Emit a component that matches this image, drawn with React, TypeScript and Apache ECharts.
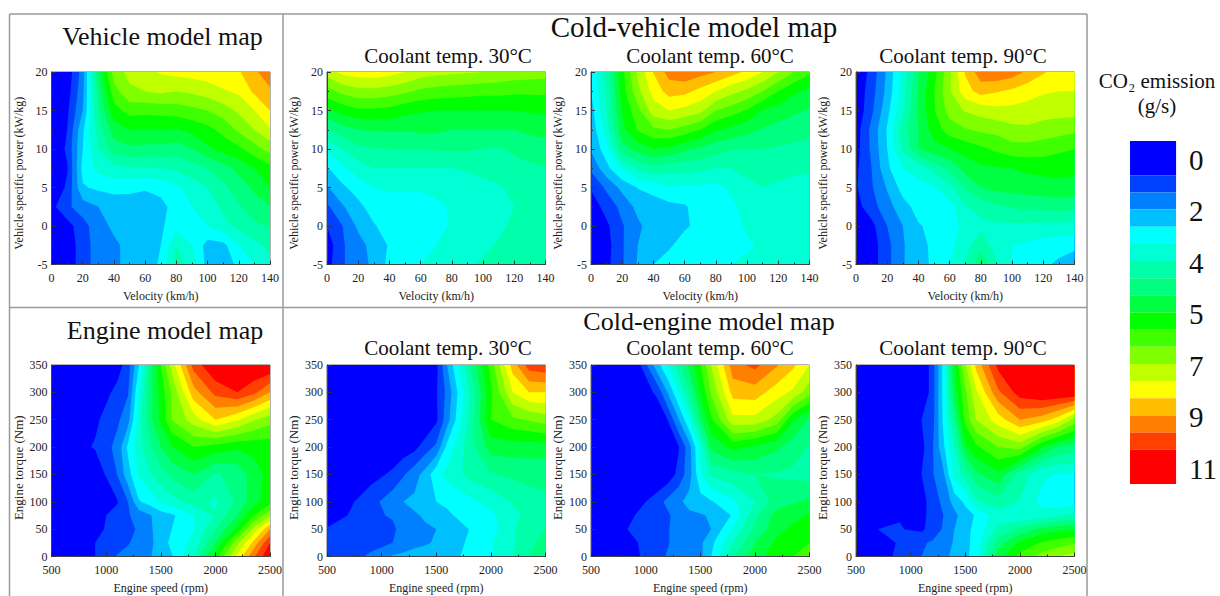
import React, { useEffect, useRef } from "react";
import * as echarts from "echarts";

const FONT = '"Liberation Serif", "Times New Roman", serif';

const bandColors = ["#0000ff","#0040ff","#0080ff","#00bfff","#00ffff","#00ffd5","#00ffaa","#00ff80","#00ff40","#00ff00","#40ff00","#80ff00","#bfff00","#ffff00","#ffbf00","#ff8000","#ff4000","#ff0000"];
const legendSpans = [2,1,1,1,1,1,1,1,1,1,1,1,1,1,1,1,1,2];
const legendTickValues = [1.1,4.1,7.1,10.1,13.1,16.1,19.1];
const legendTickLabels = ["0","2","4","5","7","9","11"];

const velocity = [0,10,20,30,40,50,60,70,80,90,100,110,120,130,140];
const specificPower = [20,17.5,15,12.5,10,7.5,5,2.5,0,-2.5,-5];
const engineSpeed = [500,900,1100,1200,1300,1400,1500,1600,1800,2000,2200,2350,2500];
const engineTorque = [350,300,250,200,150,100,75,50,25,0];

// All maps hold the colour-band position (0 to 18) of the CO2 scale.
const vehicleMap = [
  [0,0.3,2.5,8,11.5,12.3,12.7,13.1,13.3,13.4,13.5,13.7,13.9,14.8,15.7],
  [0,0.5,2.7,7.5,10.6,11.8,12,12.2,12,12.2,12.5,12.9,13.2,14.2,14.8],
  [0,0.8,3,7,9.6,10.4,10.3,10.4,10.5,10.7,11,11.5,12.2,13,14],
  [0,1,3.8,6.5,8.5,9,8.9,9,8.9,9.3,9.7,10.3,11.2,12,12.9],
  [0,1.2,4,6,7.5,7.8,7.7,7.7,7.5,8,8.8,9.4,9.8,10.6,11.4],
  [0,0.9,4.3,5.3,5.7,5.9,5.9,6,6.2,6.6,7,7.6,8.3,9,9.7],
  [0,1.2,3.9,4.2,4.4,4.3,4.1,4.3,4.8,5.4,6,6.8,7.5,8.2,9],
  [0.7,1.8,2.5,3,3.3,3.4,3.5,3.7,4.4,5,5.5,6.2,6.9,7.5,8],
  [0,0.6,1.6,2.6,3.2,3.4,3.5,3.8,4.7,4.5,5,5.7,6.3,6.8,7.1],
  [0,0.4,1.5,2.5,2.8,3.3,3.3,4,6,5,3.6,3.7,5,5.7,6.3],
  [0,0.4,1.5,2.5,2.8,3.3,3.3,4.2,6.4,5.6,3.6,3.3,4.3,5,5.7],
];
const coldVehicle30Columns = [
  [12.5,10.6,8.8,6.9,5.2,3.9,2.9,1.8,1,0.4,0.6],
  [13.3,11.3,9.4,7.6,6,4.8,3.8,2.9,2,1.9,1.9],
  [13.5,11.7,9.8,8,6.8,5.5,4.5,3.7,3.2,2.6,2.6],
  [13.6,11.7,9.8,8.1,6.9,6,5,4.5,3.9,3.4,3.2],
  [13.4,11.5,9.7,8.1,7,6,5.1,4.7,4.5,4.1,4.3],
  [13,11.2,9.3,8.1,7,6,5.1,4.6,4.3,4.3,4.6],
  [12.5,10.8,9.1,8.2,7,6,5.1,4.7,4.5,4.7,5],
  [12.3,10.6,9,8.2,7.1,6,5.3,4.8,4.7,5,5.4],
  [12.2,10.5,9,8,7.1,6,5.6,5.1,5.1,5.3,5.6],
  [12.1,10.4,9,8,7.1,6.1,5.6,5.4,5.4,5.6,5.9],
  [12,10.3,9,8,7,6.2,5.8,5.6,5.6,5.8,6.1],
  [11.8,10.3,9,8,6.9,6.4,5.9,5.7,5.8,6.1,6.3],
  [11.6,10.2,9,8,7.2,6.6,6.2,6,6.2,6.3,6.4],
  [11.5,10.2,9.1,8.2,7.5,6.8,6.4,6.3,6.3,6.4,6.5],
  [11.4,10.2,9.2,8.3,7.6,6.9,6.5,6.4,6.4,6.5,6.6],
];
const coldVehicle60Columns = [
  [4.2,4,3.6,3.3,3.1,2.2,1.1,0.4,0,0,0],
  [6.4,6.2,6,5.5,4.6,3.7,2.2,1.4,0.8,0.6,0.7],
  [9.7,9.5,9.1,8.7,7.6,5.1,3.3,2.3,1.9,1.9,1.9],
  [12.2,11.7,10.7,10.1,8.4,6.2,4.05,3.3,2.8,3,3.1],
  [14.05,13.4,12.5,10.8,9,6.8,4.3,3.6,3.5,3.6,4],
  [15.4,14.4,13,11,8.8,6.4,4.9,3.7,3.7,3.9,4.3],
  [15.7,14.3,12.7,10.6,8.2,6.4,4.8,3.9,3.9,4.3,4.6],
  [15.4,13.7,12.3,10,7.8,6.3,4.8,4.4,4.2,4.6,4.9],
  [15,13,11,9.1,7.4,6,4.7,4.5,4.5,4.6,4.9],
  [14.4,12.3,10.5,8.7,7.1,6,5.2,4.8,4.5,4.6,5],
  [13.8,11.8,9.9,8.3,7,6.4,5.6,5.3,5.2,4.8,5.3],
  [13,11,8.9,7.9,7,6.5,6,5.7,5.5,5.2,5.4],
  [12,10,8.6,7.6,6.9,6.2,5.9,5.7,5.5,5.3,5.3],
  [11,9.2,8.2,7.4,6.8,6.2,5.7,5.5,5.4,5.3,5.3],
  [10.2,8.7,7.9,7.3,6.7,6.1,5.7,5.5,5.4,5.3,5.3],
];
const coldVehicle90 = [
  [0,1.4,3.2,5.3,7.9,9.6,11.8,14.1,15.6,15.8,15.5,14.8,14.1,13.6,13.4],
  [0.2,1.6,3.3,5.5,8.1,10,11.9,13.6,14.4,14.1,13.8,13.4,13.1,13,13],
  [0.2,1.8,3.7,5.8,8.2,9.9,11.4,12.1,12.4,12.7,12.7,12.6,12.5,12.4,12.4],
  [0.5,2.3,4.1,6.6,8,9.5,10.5,10.9,11.2,11.3,11.7,11.8,11.5,11.4,11.2],
  [0.6,2.2,4,6.2,8,8.6,9,9.4,9.8,10.2,10.6,10.6,10.5,10.2,10],
  [0.8,2,3.8,5,5.4,6.4,7.3,8.4,8.8,8.9,9,9.2,9.3,9.3,9.3],
  [0.9,1.9,3.1,4.4,4.7,4.9,5.8,7.1,8,8.3,8.4,8.5,8.6,8.7,8.6],
  [0.6,1.6,2.6,3.6,4.4,4.6,4.6,5.9,6.4,6.8,7.1,7.2,7.3,7.4,7.3],
  [0,0.7,2,3,3.9,4.3,4.6,5.3,5.7,5.8,5.8,5.8,5.7,5.7,5.6],
  [0,0.5,1.7,2.9,3.7,4.2,4.7,5.6,6.7,5.5,5,4.8,4.6,4.4,4.3],
  [0,0.5,1.7,2.9,3.8,4.1,5,6.1,7.8,6.1,5,4.6,4.2,3.8,3.3],
];
const engineMap = [
  [0,0,0.5,1.5,4,7.4,10,12.4,16.4,18,18,18,18],
  [0,0.2,1.3,1.9,5,7.6,9.4,11.1,14.6,16.3,17,16.3,15],
  [0,0.8,1.8,2.6,5.6,7.7,9.2,11,12.5,14,13.1,12.1,11.4],
  [0,1.1,2.3,4.2,5.6,6.9,8,8.9,10,9.6,9.2,9.3,9.4],
  [0,0.2,2,3.6,5.1,5.9,6.6,7.3,8,6.9,7.3,8.5,9.4],
  [0,0.2,0.9,2,3.9,4.4,5.1,5.6,6.4,5.8,7.2,8.6,9.6],
  [0,0.6,1.4,1.9,2.4,2.9,3.5,3.8,5,6.1,8,10,11.8],
  [0,0.8,1.3,1.6,2.2,2.9,3.3,4,4.9,7,9.3,12.3,15],
  [0,1,1.3,1.9,2.4,2.8,3.4,4.3,5.3,8,11.7,14.3,17],
  [0,1,2.1,2.4,2.7,2.9,3.6,3.9,6,9.5,13.2,15.8,18],
];
const coldEngine30 = [
  [0,0,0,0,0,0,0.7,3,6.9,10.4,14.5,16.5,16.8],
  [0,0,0,0,0,0,0.9,2.3,5.9,9.8,13,14,14],
  [0,0,0,0,0,0,0.8,2.6,6.2,10,10.8,11.1,11.5],
  [0,0,0.2,0.4,0.7,1.5,2.2,4.3,6.5,8.5,8.5,8.5,8.5],
  [0,0.6,1.2,1.9,2.6,3.4,4.7,5.3,6.3,6.9,7.2,7.3,7.3],
  [0,1.6,2.6,3,3.2,3.7,4,4.2,4.7,5.3,6.1,6.6,6.8],
  [0.3,1.8,2.1,2.4,2.9,3.1,3.6,3.8,4.5,4.8,5.7,6.3,6.7],
  [1.1,1.6,1.8,2.4,2.8,2.9,3,3.5,4,4.6,5.9,6.5,7],
  [1.4,1.8,2,2.5,2.8,2.9,3.1,3.6,4.1,4.9,5.9,6.7,7.4],
  [1.4,2.1,3.1,3.2,3.3,3.4,3.5,3.7,4.2,4.9,5.9,7,7.9],
];
const coldEngine60 = [
  [0,0.1,3.5,5,6.6,8.3,9.9,12,15.6,16.3,15.1,14.2,13],
  [0,0,1.2,3,4.9,7,9.1,11.1,14.4,14.5,13.5,12.8,11.4],
  [0,0,0,1,2.9,4.9,7.8,9.8,12.7,12.7,11.6,9.1,7.8],
  [0,0,0,0.4,0.9,2.6,5.2,8.3,9.3,8.8,8.2,7.5,6.9],
  [0,0,0,0.3,1.3,2.6,4.8,6.2,6.7,7,6.9,6.8,6.6],
  [0,0.5,1.5,2.3,2.8,3.3,3.6,3.9,4.8,6,7.5,7.9,8.2],
  [0,1,1.7,1.8,2.5,2.8,2.9,3.1,4.1,6.8,8.4,8.7,9.1],
  [0,1.2,1.7,1.9,2.5,2.7,2.9,3,5.1,7.2,8.7,9.2,9.5],
  [0,0.9,1.6,1.9,2.5,2.6,2.8,3.7,6,8,9.2,9.6,10],
  [0,0.8,1.6,2.1,2.5,2.6,2.7,4,6.8,8.6,9.5,10,10.5],
];
const coldEngine90 = [
  [0,0,0,1.5,4.3,9,11.8,14.3,17.3,18,18,18,18],
  [0,0,0,1.5,4.3,8.5,10.8,12.8,15.8,17.5,18,18,18],
  [0,0,1,1.6,4.2,7.2,10.3,12,13.5,15,14.5,13.5,11.6],
  [0,0,0.7,1.9,3.8,5.9,8.8,9.8,11,11.4,9.1,7.9,7.6],
  [0,0,1,1.9,2.8,5.3,6.4,7.8,8.8,6.6,5.2,4.9,4.9],
  [0,0,0.5,1.6,2.2,3.4,4.2,5.8,6.6,5.9,4.7,4.3,4.6],
  [0.6,0.95,0.7,1.4,2,2.7,3.6,4.1,5.5,5.1,5.4,5.8,6.3],
  [0.95,1.05,0.8,1.5,2.1,3,3.8,4.2,6.2,7.2,8.3,8.7,8.9],
  [0,1.1,1.9,2.1,2.5,3.1,3.7,4.4,7.5,9.2,10.1,10.5,10.9],
  [0,1.2,2,2.3,2.7,3.3,3.8,4.4,8.6,10.3,11.4,12,12.4],
];

const transpose = (cols: number[][]) => cols[0].map((_, r) => cols.map((c) => c[r]));

const VEHICLE_Y = 72;
const ENGINE_Y = 365;
const panelLefts = [51.5, 327, 591, 856];

const vehicleAxes = { xs: velocity, ys: specificPower, xMin: 0, xMax: 140, xStep: 20, yMin: -5, yMax: 20, yStep: 5, xName: "Velocity (km/h)", yName: "Vehicle specific power (kW/kg)", yNameSize: 12, yNameShift: 10, top: VEHICLE_Y, height: 192.5 };
const engineAxes = { xs: engineSpeed, ys: engineTorque, xMin: 500, xMax: 2500, xStep: 500, yMin: 0, yMax: 350, yStep: 50, xName: "Engine speed (rpm)", yName: "Engine torque (Nm)", yNameSize: 13, yNameShift: 14, top: ENGINE_Y, height: 191.5 };

const panels = [
  { axes: vehicleAxes, values: vehicleMap, left: panelLefts[0] },
  { axes: vehicleAxes, values: transpose(coldVehicle30Columns), left: panelLefts[1] },
  { axes: vehicleAxes, values: transpose(coldVehicle60Columns), left: panelLefts[2] },
  { axes: vehicleAxes, values: coldVehicle90, left: panelLefts[3] },
  { axes: engineAxes, values: engineMap, left: panelLefts[0] },
  { axes: engineAxes, values: coldEngine30, left: panelLefts[1] },
  { axes: engineAxes, values: coldEngine60, left: panelLefts[2] },
  { axes: engineAxes, values: coldEngine90, left: panelLefts[3] },
];

type P = [number, number, number];

// Part of a grid cell at or above a threshold (linear along cell edges).
function clipCell(cell: P[], t: number): P[] {
  const out: P[] = [];
  for (let i = 0; i < cell.length; i++) {
    const a = cell[i];
    const b = cell[(i + 1) % cell.length];
    const aIn = a[2] >= t;
    const bIn = b[2] >= t;
    if (aIn) out.push(a);
    if (aIn !== bIn) {
      const f = (t - a[2]) / (b[2] - a[2]);
      out.push([a[0] + (b[0] - a[0]) * f, a[1] + (b[1] - a[1]) * f, t]);
    }
  }
  return out;
}

function bandPath(xs: number[], ys: number[], values: number[][], band: number, api: any): string {
  let d = "";
  for (let r = 0; r < ys.length - 1; r++) {
    for (let c = 0; c < xs.length - 1; c++) {
      const cell: P[] = [
        [xs[c], ys[r], values[r][c]],
        [xs[c + 1], ys[r], values[r][c + 1]],
        [xs[c + 1], ys[r + 1], values[r + 1][c + 1]],
        [xs[c], ys[r + 1], values[r + 1][c]],
      ];
      const poly = band === 0 ? cell : clipCell(cell, band);
      if (poly.length < 3) continue;
      poly.forEach((p, i) => {
        const pt = api.coord([p[0], p[1]]);
        d += (i === 0 ? "M" : "L") + pt[0].toFixed(2) + " " + pt[1].toFixed(2);
      });
      d += "Z";
    }
  }
  return d;
}

const labelFont = { fontFamily: FONT, fontSize: 12, color: "#222" };
const nameFont = { fontFamily: FONT, fontSize: 12, color: "#222" };

function buildOption() {
  const grid: any[] = [];
  const xAxis: any[] = [];
  const yAxis: any[] = [];
  const series: any[] = [];

  panels.forEach((p, i) => {
    const a = p.axes;
    grid.push({ left: p.left, top: a.top, width: 218.5, height: a.height, show: true, borderColor: "#666", borderWidth: 1, backgroundColor: "transparent" });
    xAxis.push({
      gridIndex: i, type: "value", min: a.xMin, max: a.xMax, interval: a.xStep, z: 10,
      name: a.xName, nameLocation: "middle", nameGap: 25, nameTextStyle: nameFont,
      axisLine: { show: true, onZero: false, lineStyle: { color: "#444", width: 1 } },
      axisTick: { show: true, inside: true, length: 4, lineStyle: { color: "#333" } },
      minorTick: { show: true, splitNumber: 2, length: 2, lineStyle: { color: "#333" } },
      axisLabel: { ...labelFont, margin: 7, hideOverlap: false, formatter: (v: number) => String(v) },
      splitLine: { show: false },
    });
    yAxis.push({
      gridIndex: i, type: "value", min: a.yMin, max: a.yMax, interval: a.yStep, z: 10,
      name: a.yName, nameLocation: "middle", nameGap: 27, nameRotate: 90,
      nameTextStyle: { ...nameFont, fontSize: a.yNameSize, padding: [0, a.yNameShift, 0, 0] },
      axisLine: { show: true, onZero: false, lineStyle: { color: "#444", width: 1 } },
      axisTick: { show: true, inside: true, length: 4, lineStyle: { color: "#333" } },
      minorTick: { show: true, splitNumber: 2, length: 2, lineStyle: { color: "#333" } },
      axisLabel: { ...labelFont, margin: 4, hideOverlap: false, formatter: (v: number) => String(v) },
      splitLine: { show: false },
    });
    series.push({
      type: "custom",
      coordinateSystem: "cartesian2d",
      xAxisIndex: i,
      yAxisIndex: i,
      silent: true,
      clip: true,
      data: bandColors.map((_, k) => [k]),
      renderItem: (_params: any, api: any) => {
        const band = api.value(0);
        const pathData = bandPath(a.xs, a.ys, p.values, band, api);
        if (!pathData) return null;
        return { type: "path", shape: { pathData }, style: { fill: bandColors[band], stroke: null } };
      },
    });
  });

  // colour scale
  const li = panels.length;
  grid.push({ left: 1130, top: 141, width: 53, height: 343 });
  xAxis.push({ gridIndex: li, type: "value", min: 0, max: 1, show: false });
  yAxis.push({
    gridIndex: li, type: "value", min: 0, max: 20, inverse: true, position: "right",
    axisLine: { show: false }, axisTick: { show: false }, splitLine: { show: false },
    axisLabel: {
      show: true, customValues: legendTickValues, margin: 13, align: "left",
      fontFamily: FONT, fontSize: 29, color: "#111",
      formatter: (v: number) => legendTickLabels[legendTickValues.indexOf(v)] ?? "",
    },
  });
  let acc = 0;
  const legendData = legendSpans.map((s, k) => {
    const item = [acc, acc + s, k];
    acc += s;
    return item;
  });
  series.push({
    type: "custom", coordinateSystem: "cartesian2d", xAxisIndex: li, yAxisIndex: li, silent: true,
    data: legendData,
    renderItem: (_params: any, api: any) => {
      const a = api.coord([0, api.value(0)]);
      const b = api.coord([1, api.value(1)]);
      return { type: "rect", shape: { x: a[0], y: a[1], width: b[0] - a[0], height: b[1] - a[1] }, style: { fill: bandColors[api.value(2)] } };
    },
  });

  const text = (t: string, x: number, y: number, size: number) => ({
    type: "text", x, y, silent: true,
    style: { text: t, fontFamily: FONT, fontSize: size, fill: "#111", align: "center", verticalAlign: "middle" },
  });
  const line = (x1: number, y1: number, x2: number, y2: number) => ({
    type: "line", silent: true, shape: { x1, y1, x2, y2 }, style: { stroke: "#9a9a9a", lineWidth: 1.5 },
  });

  const graphic = [
    line(9.5, 14, 1087, 14), line(9.5, 14, 9.5, 596), line(1087, 14, 1087, 596),
    line(283, 14, 283, 596), line(9.5, 307.5, 1087, 307.5),
    text("Vehicle model map", 162.5, 36, 26),
    text("Cold-vehicle model map", 694, 27, 29),
    text("Engine model map", 165, 330, 26),
    text("Cold-engine model map", 709, 321, 26),
    text("Coolant temp. 30°C", 448, 56, 21),
    text("Coolant temp. 60°C", 710, 56, 21),
    text("Coolant temp. 90°C", 963, 56, 21),
    text("Coolant temp. 30°C", 448, 348, 21),
    text("Coolant temp. 60°C", 710, 348, 21),
    text("Coolant temp. 90°C", 963, 348, 21),
    text("CO₂ emission", 1157, 81, 21),
    text("(g/s)", 1157, 106, 21),
  ];

  return { animation: false, backgroundColor: "#fff", grid, xAxis, yAxis, series, graphic };
}

export default function App() {
  const ref = useRef<HTMLDivElement>(null);
  useEffect(() => {
    document.body.style.margin = "0";
    const chart = echarts.init(ref.current!, undefined, { renderer: "svg" });
    chart.setOption(buildOption() as any);
    return () => chart.dispose();
  }, []);
  return <div ref={ref} style={{ width: 1220, height: 596 }} />;
}
